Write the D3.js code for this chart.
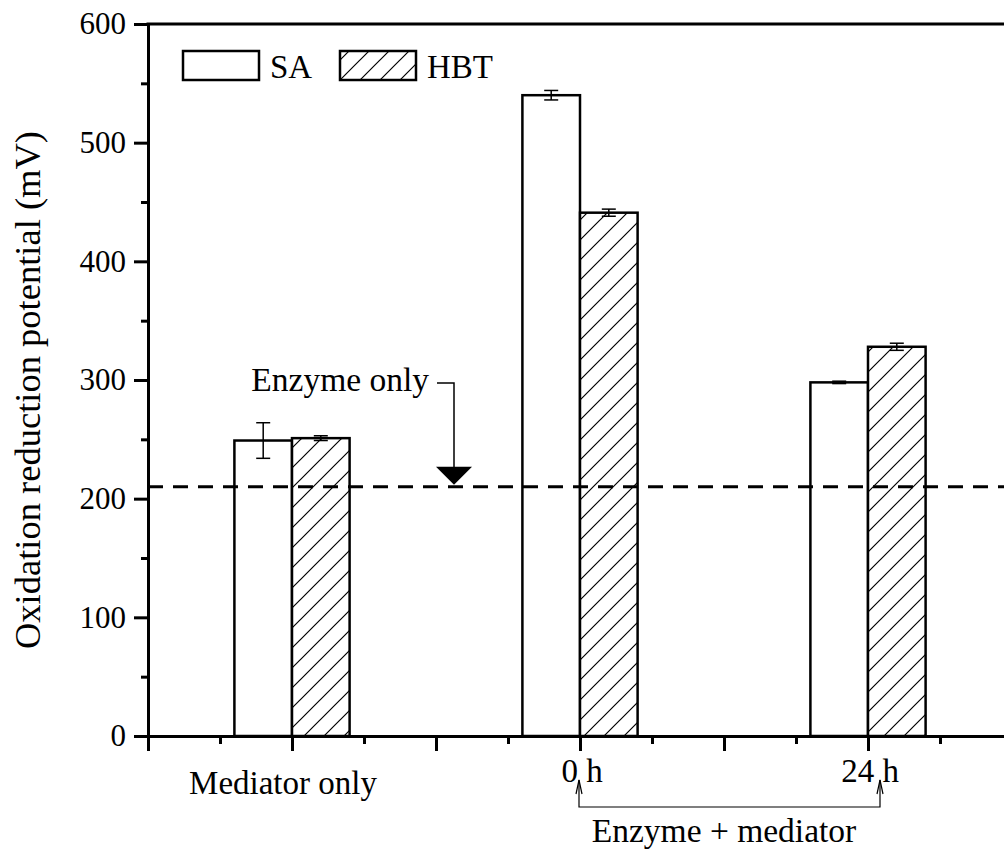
<meta charset="utf-8">
<script src="https://d3js.org/d3.v7.min.js"></script>
<style>
  body { margin: 0; background: #fff; }
  text { font-family: "Liberation Serif", "Times New Roman", serif; fill: #000; }
</style>
<div id="chart"></div>
<script>

// data
var groups = ["Mediator only", "0 h", "24 h"];
var groupPos = [1, 3, 5];
var saValues = [249, 540, 298];
var saErrors = [15, 4, 1];
var hbtValues = [251, 441, 328];
var hbtErrors = [2, 3, 3];
var enzymeOnly = 210;
var yTicks = [0, 100, 200, 300, 400, 500, 600];

var width = 1004, height = 853;
var margin = {top: 24, left: 148, bottom: 117};

var svg = d3.select("#chart")
  .append("svg")
    .attr("width", width)
    .attr("height", height);

// hatch for HBT
var defs = svg.append("defs");
var pat = defs.append("pattern")
    .attr("id", "hatch")
    .attr("patternUnits", "userSpaceOnUse")
    .attr("width", 20)
    .attr("height", 20);
pat.append("rect").attr("width", 20).attr("height", 20).attr("fill", "#fff");
pat.append("path")
    .attr("d", "M-5,5 L5,-5 M0,20 L20,0 M15,25 L25,15")
    .attr("stroke", "#000")
    .attr("stroke-width", 1.2);

var x = d3.scaleLinear()
  .domain([0, 6])
  .range([margin.left, margin.left + 6 * 144]);

var y = d3.scaleLinear()
  .domain([0, 600])
  .range([height - margin.bottom, margin.top]);

var barW = 0.4;

// bars
function drawBars(values, errors, offset, fill) {
  var g = svg.append("g");
  g.selectAll("rect")
    .data(values)
    .enter()
    .append("rect")
      .attr("x", function(d, i) { return x(groupPos[i] + offset); })
      .attr("y", function(d) { return y(d); })
      .attr("width", x(barW) - x(0))
      .attr("height", function(d) { return y(0) - y(d); })
      .attr("fill", fill)
      .attr("stroke", "#000")
      .attr("stroke-width", 2.5);

  // error bars
  values.forEach(function(v, i) {
    var cx = x(groupPos[i] + offset + barW / 2);
    var e = errors[i];
    g.append("line")
      .attr("x1", cx).attr("x2", cx)
      .attr("y1", y(v + e)).attr("y2", y(v - e))
      .attr("stroke", "#000").attr("stroke-width", 1.5);
    [v + e, v - e].forEach(function(yy) {
      g.append("line")
        .attr("x1", cx - 7).attr("x2", cx + 7)
        .attr("y1", y(yy)).attr("y2", y(yy))
        .attr("stroke", "#000").attr("stroke-width", 1.5);
    });
  });
}
drawBars(saValues, saErrors, -barW, "#fff");
drawBars(hbtValues, hbtErrors, 0, "url(#hatch)");

// enzyme only dashed line
svg.append("line")
  .attr("x1", x(0)).attr("x2", x(6))
  .attr("y1", y(enzymeOnly)).attr("y2", y(enzymeOnly))
  .attr("stroke", "#000")
  .attr("stroke-width", 3)
  .attr("stroke-dasharray", "15,10");

// axes
var yAxis = svg.append("g")
  .attr("transform", "translate(" + x(0) + ",0)")
  .call(d3.axisLeft(y).tickValues(yTicks).tickSize(14).tickSizeOuter(0).tickPadding(8));
yAxis.selectAll("text").style("font-size", "31px");

svg.append("g")
  .attr("transform", "translate(" + x(0) + ",0)")
  .call(d3.axisLeft(y).tickValues(d3.range(50, 600, 100)).tickSize(7).tickSizeOuter(0).tickFormat(""));

svg.append("g")
  .attr("transform", "translate(0," + y(0) + ")")
  .call(d3.axisBottom(x).tickValues(d3.range(0, 7, 1)).tickSize(15).tickSizeOuter(0).tickFormat(""));

svg.append("g")
  .attr("transform", "translate(0," + y(0) + ")")
  .call(d3.axisBottom(x).tickValues(d3.range(0.5, 6, 1)).tickSize(8).tickSizeOuter(0).tickFormat(""));

svg.selectAll(".domain").attr("stroke-width", 3);
svg.selectAll(".tick line").attr("stroke-width", 3);

// top frame
svg.append("line")
  .attr("x1", x(0) - 1.5).attr("x2", x(6))
  .attr("y1", y(600)).attr("y2", y(600))
  .attr("stroke", "#000").attr("stroke-width", 3);

// x labels
svg.append("text")
  .attr("x", x(groupPos[0]) - 9)
  .attr("y", 794)
  .attr("text-anchor", "middle")
  .style("font-size", "33px")
  .text(groups[0]);
[1, 2].forEach(function(i) {
  svg.append("text")
    .attr("x", x(groupPos[i]) + 2)
    .attr("y", 782)
    .attr("text-anchor", "middle")
    .style("font-size", "33px")
    .text(groups[i]);
});

// bracket: enzyme + mediator
var bx1 = x(groupPos[1]) - 1, bx2 = x(groupPos[2]) + 12, by = 807;
svg.append("path")
  .attr("d", "M" + bx1 + ",780 V" + by + " H" + bx2 + " V780")
  .attr("fill", "none").attr("stroke", "#000").attr("stroke-width", 1.2);
[bx1, bx2].forEach(function(ax) {
  svg.append("path")
    .attr("d", "M" + (ax - 3) + ",794 L" + ax + ",780 L" + (ax + 3) + ",794")
    .attr("fill", "none").attr("stroke", "#000").attr("stroke-width", 1.2);
});
svg.append("text")
  .attr("x", x(4))
  .attr("y", 842)
  .attr("text-anchor", "middle")
  .style("font-size", "33.5px")
  .text("Enzyme + mediator");

// enzyme only annotation
var ax0 = x(2.125), tipY = y(enzymeOnly) - 2;
svg.append("text")
  .attr("x", 429)
  .attr("y", 391)
  .attr("text-anchor", "end")
  .style("font-size", "33.5px")
  .text("Enzyme only");
svg.append("path")
  .attr("d", "M437,383 H" + ax0 + " V" + (tipY - 16))
  .attr("fill", "none").attr("stroke", "#000").attr("stroke-width", 1.5);
svg.append("path")
  .attr("d", "M" + (ax0 - 18) + "," + (tipY - 18) + " L" + (ax0 + 18) + "," + (tipY - 18) + " L" + ax0 + "," + tipY + " Z")
  .attr("fill", "#000");

// y title
svg.append("text")
  .attr("transform", "translate(40,390) rotate(-90)")
  .attr("text-anchor", "middle")
  .style("font-size", "36.5px")
  .text("Oxidation reduction potential (mV)");

// legend
var legend = [["SA", "#fff", 183], ["HBT", "url(#hatch)", 340]];
legend.forEach(function(l) {
  svg.append("rect")
    .attr("x", l[2]).attr("y", 51)
    .attr("width", 76).attr("height", 29)
    .attr("fill", l[1])
    .attr("stroke", "#000").attr("stroke-width", 2.5);
  svg.append("text")
    .attr("x", l[2] + 87).attr("y", 78)
    .style("font-size", "33px")
    .text(l[0]);
});

</script>
